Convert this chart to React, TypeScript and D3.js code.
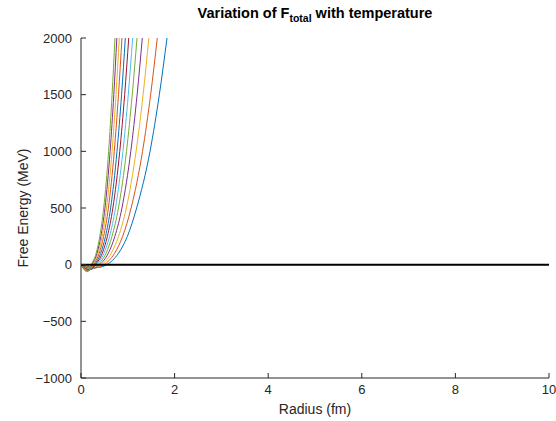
import React from "react";
import * as d3 from "d3";

// Tick values
const xTicks = [0, 2, 4, 6, 8, 10];
const yTicks = [-1000, -500, 0, 500, 1000, 1500, 2000];

// Series colours (MATLAB default order)
const colorOrder = ["#0072BD", "#D95319", "#EDB120", "#7E2F8E", "#77AC30", "#4DBEEE", "#A2142F"];

// Each curve: [radius (fm), free energy (MeV)], lowest temperature first
const curveT1: [number, number][] = [[0, 0], [0.147, -16], [0.311, -25], [0.441, -19.5], [0.55, 0], [0.8, 100], [0.991, 250], [1.189, 500], [1.475, 1000], [1.674, 1500], [1.838, 2000]];
const curveT2: [number, number][] = [[0, 0], [0.13, -18], [0.277, -28], [0.391, -22], [0.492, 0], [0.717, 100], [0.89, 250], [1.071, 500], [1.315, 1000], [1.488, 1500], [1.63, 2000]];
const curveT3: [number, number][] = [[0, 0], [0.116, -20.5], [0.247, -32], [0.348, -25], [0.442, 0], [0.645, 100], [0.802, 250], [0.969, 500], [1.177, 1000], [1.327, 1500], [1.45, 2000]];
const curveT4: [number, number][] = [[0, 0], [0.105, -22.4], [0.223, -35], [0.314, -27.3], [0.4, 0], [0.583, 100], [0.724, 250], [0.875, 500], [1.064, 1000], [1.199, 1500], [1.31, 2000]];
const curveT5: [number, number][] = [[0, 0], [0.096, -24.3], [0.203, -38], [0.287, -29.6], [0.365, 0], [0.533, 100], [0.662, 250], [0.8, 500], [0.972, 1000], [1.095, 1500], [1.197, 2000]];
const curveT6: [number, number][] = [[0, 0], [0.088, -26.9], [0.188, -42], [0.265, -32.8], [0.337, 0], [0.491, 100], [0.611, 250], [0.737, 500], [0.896, 1000], [1.01, 1500], [1.104, 2000]];
const curveT7: [number, number][] = [[0, 0], [0.082, -28.8], [0.173, -45], [0.245, -35.1], [0.311, 0], [0.454, 100], [0.564, 250], [0.681, 500], [0.828, 1000], [0.933, 1500], [1.02, 2000]];
const curveT8: [number, number][] = [[0, 0], [0.076, -30.7], [0.161, -48], [0.227, -37.4], [0.289, 0], [0.421, 100], [0.524, 250], [0.633, 500], [0.769, 1000], [0.867, 1500], [0.947, 2000]];
const curveT9: [number, number][] = [[0, 0], [0.07, -33.3], [0.149, -52], [0.21, -40.6], [0.267, 0], [0.389, 100], [0.484, 250], [0.585, 500], [0.711, 1000], [0.801, 1500], [0.875, 2000]];
const curveT10: [number, number][] = [[0, 0], [0.065, -35.2], [0.139, -55], [0.196, -42.9], [0.249, 0], [0.364, 100], [0.452, 250], [0.546, 500], [0.664, 1000], [0.748, 1500], [0.818, 2000]];
const curveT11: [number, number][] = [[0, 0], [0.061, -37.1], [0.13, -58], [0.184, -45.2], [0.234, 0], [0.341, 100], [0.424, 250], [0.512, 500], [0.622, 1000], [0.701, 1500], [0.766, 2000]];
const curveT12: [number, number][] = [[0, 0], [0.058, -39.7], [0.123, -62], [0.174, -48.4], [0.221, 0], [0.323, 100], [0.401, 250], [0.485, 500], [0.59, 1000], [0.664, 1500], [0.726, 2000]];

const curves = [curveT1, curveT2, curveT3, curveT4, curveT5, curveT6, curveT7, curveT8, curveT9, curveT10, curveT11, curveT12];

const W = 556;
const H = 421;
const left = 81;
const right = 549;
const top = 38;
const bottom = 378;

export default function App() {
  const x = d3.scaleLinear().domain([0, 10]).range([left, right]);
  const y = d3.scaleLinear().domain([-1000, 2000]).range([bottom, top]);
  const line = d3
    .line<[number, number]>()
    .x((d) => x(d[0]))
    .y((d) => y(d[1]))
    .curve(d3.curveMonotoneX);
  const axisColor = "#262626";
  const font = "'Liberation Sans', Arial, Helvetica, sans-serif";
  const tickLen = 5;
  return (
    <svg
      width={W}
      height={H}
      style={{ position: "absolute", left: 0, top: 0, background: "#fff" }}
      fontFamily={font}
    >
      <defs>
        <clipPath id="plotClip">
          <rect x={left} y={top} width={right - left} height={bottom - top} />
        </clipPath>
      </defs>
      <g clipPath="url(#plotClip)">
        {curves.map((c, i) => (
          <path
            key={i}
            d={line(c) || ""}
            fill="none"
            stroke={colorOrder[i % colorOrder.length]}
            strokeWidth={1}
          />
        ))}
        <line x1={x(0)} x2={x(10)} y1={y(0)} y2={y(0)} stroke="#000" strokeWidth={2} />
      </g>
      {/* axes */}
      <line x1={left} x2={left} y1={top} y2={bottom} stroke={axisColor} strokeWidth={1} />
      <line x1={left} x2={right} y1={bottom} y2={bottom} stroke={axisColor} strokeWidth={1} />
      {yTicks.map((t) => (
        <g key={"y" + t}>
          <line x1={left} x2={left + tickLen} y1={y(t)} y2={y(t)} stroke={axisColor} strokeWidth={1} />
          <text
            x={left - 9}
            y={y(t)}
            dy="0.35em"
            textAnchor="end"
            fontSize={13}
            fill={axisColor}
          >
            {t < 0 ? "\u2212" + Math.abs(t) : String(t)}
          </text>
        </g>
      ))}
      {xTicks.map((t) => (
        <g key={"x" + t}>
          <line x1={x(t)} x2={x(t)} y1={bottom} y2={bottom - tickLen} stroke={axisColor} strokeWidth={1} />
          <text x={x(t)} y={bottom + 16} textAnchor="middle" fontSize={13} fill={axisColor}>
            {String(t)}
          </text>
        </g>
      ))}
      <text x={(left + right) / 2} y={414} textAnchor="middle" fontSize={14} fill={axisColor}>
        Radius (fm)
      </text>
      <text
        transform={`translate(${28},${(top + bottom) / 2}) rotate(-90)`}
        textAnchor="middle"
        fontSize={14}
        fill={axisColor}
      >
        Free Energy (MeV)
      </text>
      <text x={(left + right) / 2} y={18} textAnchor="middle" fontSize={14.5} fontWeight="bold" fill="#000">
        Variation of F
        <tspan fontSize={10.5} dy={3.5}>total</tspan>
        <tspan dy={-3.5}> with temperature</tspan>
      </text>
    </svg>
  );
}
